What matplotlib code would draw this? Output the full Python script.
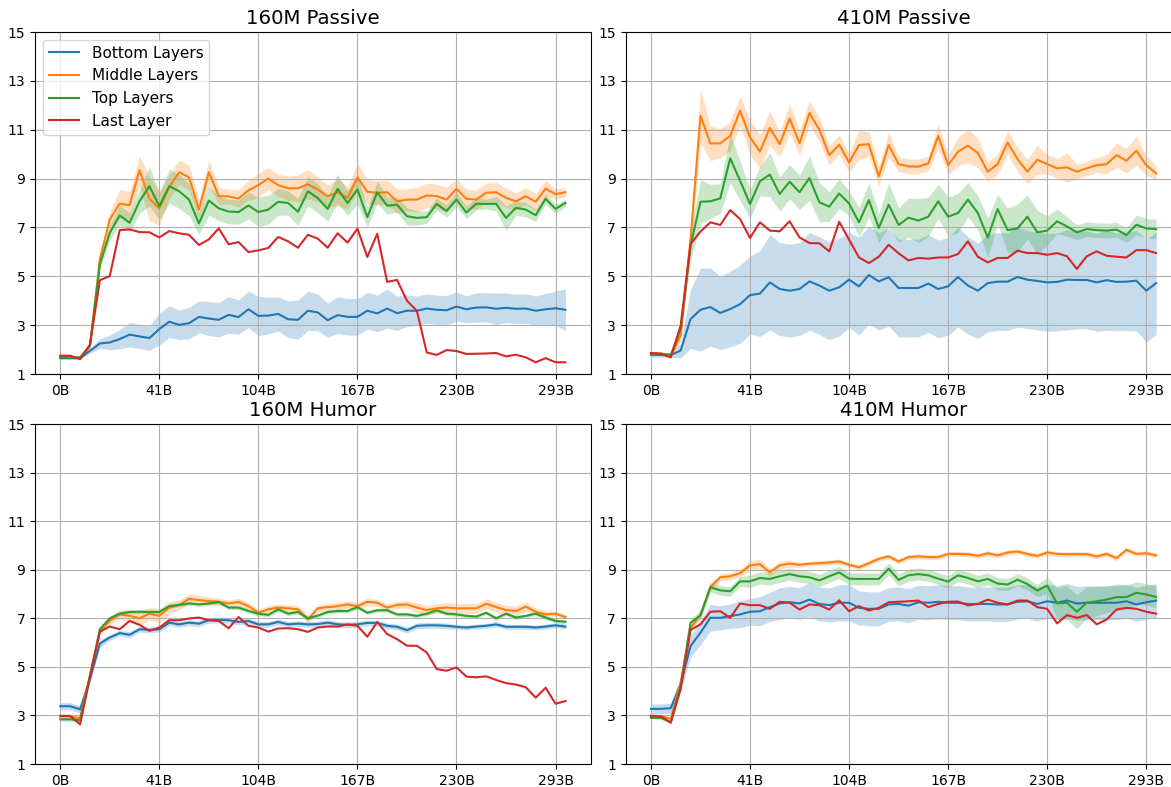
import matplotlib
matplotlib.use("Agg")
import matplotlib.pyplot as plt
import numpy as np

# checkpoints (index) and their tick labels
steps = np.arange(52)
tick_pos = [0, 10, 20, 30, 40, 50]
tick_labels = ["0B", "41B", "104B", "167B", "230B", "293B"]
series_names = ["Bottom Layers", "Middle Layers", "Top Layers", "Last Layer"]
panel_titles = ["160M Passive", "410M Passive", "160M Humor", "410M Humor"]

# ---- 160M Passive ----
p160_bottom = [1.65, 1.65, 1.65, 1.95, 2.25, 2.29, 2.43, 2.61, 2.54, 2.47,
               2.84, 3.14, 3.01, 3.08, 3.34, 3.27, 3.22, 3.42, 3.33, 3.65,
               3.38, 3.39, 3.46, 3.24, 3.22, 3.59, 3.52, 3.20, 3.41, 3.34,
               3.34, 3.59, 3.48, 3.68, 3.49, 3.59, 3.59, 3.68, 3.63, 3.61,
               3.76, 3.65, 3.72, 3.73, 3.67, 3.71, 3.67, 3.68, 3.59, 3.65,
               3.69, 3.63]
p160_middle = [1.72, 1.72, 1.65, 2.16, 5.70, 7.33, 7.97, 7.91, 9.34, 8.17,
               7.78, 8.65, 9.26, 9.05, 7.73, 9.26, 8.28, 8.27, 8.18, 8.52,
               8.73, 9.00, 8.73, 8.60, 8.60, 8.77, 8.55, 8.28, 8.44, 8.21,
               9.05, 8.46, 8.42, 8.44, 8.07, 8.14, 8.14, 8.31, 8.28, 8.14,
               8.58, 8.17, 8.14, 8.42, 8.44, 8.21, 8.07, 8.28, 8.05, 8.59,
               8.36, 8.44]
p160_top = [1.68, 1.68, 1.68, 2.16, 5.49, 6.78, 7.49, 7.19, 8.07, 8.69,
            7.87, 8.69, 8.48, 8.14, 7.16, 8.10, 7.78, 7.65, 7.63, 7.90,
            7.63, 7.73, 8.05, 8.00, 7.64, 8.48, 8.20, 7.76, 8.58, 8.00,
            8.55, 7.42, 8.44, 7.89, 7.93, 7.46, 7.39, 7.42, 7.96, 7.67,
            8.14, 7.61, 7.97, 7.96, 7.97, 7.39, 7.80, 7.73, 7.50, 8.17,
            7.76, 8.00]
p160_last = [1.75, 1.75, 1.61, 2.20, 4.84, 5.01, 6.89, 6.92, 6.81, 6.80,
             6.59, 6.85, 6.76, 6.70, 6.28, 6.51, 6.96, 6.31, 6.40, 5.99,
             6.06, 6.16, 6.61, 6.43, 6.17, 6.70, 6.54, 6.17, 6.76, 6.38,
             6.95, 5.79, 6.74, 4.77, 4.85, 4.00, 3.59, 1.88, 1.78, 1.98,
             1.94, 1.82, 1.83, 1.84, 1.86, 1.72, 1.79, 1.68, 1.48, 1.65,
             1.48, 1.48]
p160_bottom_sd = [0.05, 0.05, 0.05, 0.10, 0.20, 0.30, 0.40, 0.50, 0.50, 0.50,
                  0.65, 0.65, 0.60, 0.65, 0.65, 0.70, 0.70, 0.75, 0.70, 0.75,
                  0.80, 0.75, 0.70, 0.75, 0.80, 0.80, 0.75, 0.70, 0.75, 0.75,
                  0.75, 0.75, 0.75, 0.80, 0.70, 0.65, 0.60, 0.60, 0.60, 0.60,
                  0.60, 0.55, 0.60, 0.60, 0.65, 0.60, 0.60, 0.60, 0.60, 0.65,
                  0.70, 0.85]
p160_middle_sd = [0.05, 0.05, 0.05, 0.10, 0.20, 0.30, 0.60, 0.55, 0.60, 0.90,
                  0.70, 0.50, 0.50, 0.50, 0.40, 0.50, 0.35, 0.30, 0.35, 0.40,
                  0.50, 0.45, 0.45, 0.50, 0.55, 0.60, 0.50, 0.45, 0.55, 0.45,
                  0.60, 0.50, 0.50, 0.50, 0.50, 0.45, 0.50, 0.50, 0.50, 0.50,
                  0.40, 0.40, 0.40, 0.40, 0.40, 0.40, 0.35, 0.35, 0.35, 0.35,
                  0.20, 0.20]
p160_top_sd = [0.05, 0.05, 0.05, 0.10, 0.20, 0.30, 0.40, 0.40, 0.50, 0.80,
               0.55, 0.70, 0.70, 0.65, 0.45, 0.60, 0.50, 0.50, 0.50, 0.55,
               0.60, 0.60, 0.55, 0.50, 0.55, 0.60, 0.60, 0.50, 0.60, 0.50,
               0.60, 0.40, 0.45, 0.35, 0.30, 0.35, 0.30, 0.25, 0.25, 0.25,
               0.30, 0.25, 0.25, 0.20, 0.30, 0.50, 0.30, 0.30, 0.25, 0.20,
               0.20, 0.15]

# ---- 410M Passive ----
p410_bottom = [1.78, 1.78, 1.78, 1.96, 3.25, 3.63, 3.74, 3.50, 3.66, 3.86,
               4.23, 4.29, 4.75, 4.48, 4.41, 4.48, 4.79, 4.62, 4.41, 4.55,
               4.86, 4.59, 5.05, 4.79, 4.96, 4.52, 4.52, 4.52, 4.70, 4.48,
               4.59, 4.97, 4.62, 4.41, 4.72, 4.78, 4.78, 4.97, 4.86, 4.81,
               4.75, 4.77, 4.86, 4.85, 4.85, 4.75, 4.84, 4.77, 4.78, 4.82,
               4.41, 4.72]
p410_middle = [1.86, 1.85, 1.75, 2.57, 6.53, 11.57, 10.44, 10.44, 10.75, 11.78,
               10.69, 10.10, 11.07, 10.41, 11.46, 10.45, 11.68, 11.00, 9.96, 10.39,
               9.66, 10.37, 10.41, 9.09, 10.37, 9.59, 9.50, 9.49, 9.62, 10.75,
               9.55, 10.10, 10.35, 10.05, 9.28, 9.59, 10.48, 9.80, 9.28, 9.77,
               9.59, 9.42, 9.46, 9.28, 9.42, 9.55, 9.59, 9.96, 9.73, 10.14,
               9.55, 9.21]
p410_top = [1.82, 1.82, 1.78, 2.84, 6.25, 8.05, 8.07, 8.19, 9.83, 8.91,
            7.96, 8.89, 9.16, 8.37, 8.87, 8.44, 9.02, 8.03, 7.85, 8.39,
            7.98, 7.21, 8.12, 6.98, 7.93, 7.10, 7.40, 7.28, 7.44, 8.07,
            7.44, 7.59, 8.14, 7.59, 6.59, 7.75, 6.89, 6.96, 7.44, 6.80,
            6.87, 7.25, 7.04, 6.80, 6.93, 6.89, 6.87, 6.91, 6.69, 7.11,
            6.96, 6.93]
p410_last = [1.86, 1.82, 1.68, 2.98, 6.32, 6.83, 7.21, 7.10, 7.71, 7.34,
             6.57, 7.21, 6.87, 6.84, 7.25, 6.59, 6.36, 6.35, 6.02, 7.23,
             6.50, 5.77, 5.54, 5.80, 6.29, 5.94, 5.65, 5.75, 5.72, 5.77,
             5.77, 5.91, 6.43, 5.80, 5.57, 5.75, 5.75, 6.05, 5.95, 5.95,
             5.88, 5.95, 5.82, 5.30, 5.82, 6.02, 5.84, 5.80, 5.77, 6.07,
             6.07, 5.95]
p410_bottom_sd = [0.10, 0.10, 0.10, 0.30, 1.20, 1.70, 1.60, 1.50, 1.55, 1.60,
                  1.60, 1.75, 1.95, 1.90, 1.90, 1.90, 2.00, 2.00, 2.00, 2.00,
                  1.95, 2.00, 2.00, 2.00, 2.00, 2.00, 2.00, 2.00, 2.00, 2.00,
                  2.00, 2.05, 2.00, 1.95, 2.00, 2.00, 2.00, 2.05, 2.00, 2.00,
                  2.00, 2.00, 2.05, 2.00, 2.00, 2.00, 2.05, 2.00, 2.00, 2.05,
                  2.10, 2.10]
p410_middle_sd = [0.05, 0.05, 0.05, 0.20, 0.50, 1.10, 0.70, 0.60, 0.60, 0.60,
                  0.70, 0.70, 0.70, 0.50, 0.60, 0.50, 0.50, 0.50, 0.40, 0.40,
                  0.40, 0.60, 0.50, 0.40, 0.50, 0.30, 0.30, 0.30, 0.30, 0.50,
                  0.40, 0.60, 0.70, 0.60, 0.40, 0.40, 0.50, 0.50, 0.50, 0.60,
                  0.40, 0.40, 0.60, 0.30, 0.30, 0.30, 0.40, 0.50, 0.50, 0.60,
                  0.40, 0.30]
p410_top_sd = [0.05, 0.05, 0.05, 0.20, 0.60, 0.90, 0.70, 0.60, 1.00, 0.80,
               0.60, 0.60, 0.90, 0.70, 0.70, 0.70, 0.90, 0.80, 0.60, 0.60,
               0.50, 0.60, 0.70, 0.60, 0.90, 0.70, 0.80, 0.90, 0.80, 0.70,
               0.80, 0.80, 0.70, 0.70, 0.80, 0.60, 0.90, 1.00, 0.90, 0.90,
               0.60, 0.50, 0.40, 0.30, 0.30, 0.30, 0.30, 0.30, 0.30, 0.40,
               0.40, 0.40]

# ---- 160M Humor ----
h160_bottom = [3.38, 3.38, 3.25, 4.50, 5.96, 6.21, 6.39, 6.32, 6.55, 6.52,
               6.55, 6.82, 6.75, 6.82, 6.78, 6.92, 6.93, 6.92, 6.85, 6.89,
               6.75, 6.75, 6.85, 6.75, 6.78, 6.75, 6.76, 6.82, 6.75, 6.73,
               6.75, 6.81, 6.81, 6.69, 6.65, 6.51, 6.69, 6.71, 6.71, 6.69,
               6.65, 6.62, 6.66, 6.69, 6.75, 6.65, 6.65, 6.65, 6.62, 6.66,
               6.71, 6.66]
h160_middle = [2.96, 2.96, 2.89, 4.64, 6.45, 6.89, 7.16, 7.10, 7.00, 7.19,
               7.10, 7.44, 7.55, 7.80, 7.75, 7.71, 7.68, 7.61, 7.67, 7.50,
               7.23, 7.37, 7.44, 7.41, 7.37, 6.96, 7.41, 7.46, 7.50, 7.57,
               7.50, 7.68, 7.64, 7.44, 7.55, 7.57, 7.44, 7.34, 7.41, 7.44,
               7.41, 7.41, 7.41, 7.60, 7.46, 7.34, 7.30, 7.48, 7.27, 7.16,
               7.19, 7.05]
h160_top = [2.84, 2.84, 2.80, 4.64, 6.55, 7.00, 7.19, 7.26, 7.27, 7.26,
            7.26, 7.50, 7.55, 7.61, 7.57, 7.61, 7.67, 7.44, 7.44, 7.30,
            7.19, 7.14, 7.37, 7.19, 7.26, 7.00, 7.11, 7.26, 7.30, 7.30,
            7.46, 7.23, 7.33, 7.33, 7.16, 7.16, 7.10, 7.19, 7.33, 7.19,
            7.16, 7.10, 7.07, 7.23, 7.00, 7.19, 7.03, 7.10, 7.19, 7.03,
            6.89, 6.86]
h160_last = [2.98, 2.98, 2.63, 4.57, 6.45, 6.66, 6.55, 6.89, 6.73, 6.48,
             6.62, 6.92, 6.92, 6.99, 7.03, 6.92, 6.89, 6.59, 7.05, 6.69,
             6.62, 6.45, 6.58, 6.59, 6.55, 6.44, 6.62, 6.66, 6.66, 6.75,
             6.69, 6.24, 6.85, 6.35, 6.14, 5.87, 5.87, 5.59, 4.91, 4.84,
             4.98, 4.60, 4.57, 4.61, 4.46, 4.33, 4.27, 4.16, 3.73, 4.14,
             3.48, 3.59]
h160_bottom_sd = [0.15, 0.15, 0.15, 0.15, 0.15, 0.12, 0.12, 0.12, 0.12, 0.12,
                  0.12, 0.12, 0.12, 0.12, 0.12, 0.12, 0.12, 0.12, 0.12, 0.12,
                  0.12, 0.12, 0.12, 0.12, 0.12, 0.12, 0.12, 0.12, 0.12, 0.12,
                  0.12, 0.12, 0.12, 0.12, 0.12, 0.12, 0.12, 0.12, 0.12, 0.12,
                  0.10, 0.10, 0.10, 0.10, 0.10, 0.10, 0.10, 0.10, 0.10, 0.10,
                  0.10, 0.10]
h160_middle_sd = [0.05, 0.05, 0.05, 0.10, 0.10, 0.15, 0.20, 0.25, 0.30, 0.25,
                  0.30, 0.25, 0.20, 0.20, 0.20, 0.15, 0.15, 0.15, 0.15, 0.15,
                  0.15, 0.15, 0.15, 0.15, 0.15, 0.15, 0.15, 0.15, 0.15, 0.15,
                  0.15, 0.15, 0.15, 0.15, 0.15, 0.15, 0.20, 0.20, 0.20, 0.20,
                  0.20, 0.20, 0.20, 0.20, 0.20, 0.20, 0.20, 0.20, 0.15, 0.15,
                  0.10, 0.10]
h160_top_sd = [0.08, 0.08, 0.08, 0.08, 0.08, 0.08, 0.08, 0.08, 0.08, 0.08,
               0.08, 0.08, 0.08, 0.08, 0.08, 0.08, 0.08, 0.08, 0.08, 0.08,
               0.08, 0.08, 0.08, 0.08, 0.08, 0.08, 0.08, 0.08, 0.08, 0.08,
               0.08, 0.08, 0.08, 0.08, 0.08, 0.08, 0.08, 0.08, 0.08, 0.08,
               0.08, 0.08, 0.08, 0.08, 0.08, 0.08, 0.08, 0.08, 0.08, 0.08,
               0.08, 0.08]

# ---- 410M Humor ----
h410_bottom = [3.27, 3.27, 3.30, 4.29, 5.86, 6.41, 7.02, 7.02, 7.09, 7.16,
               7.27, 7.29, 7.46, 7.61, 7.66, 7.61, 7.77, 7.59, 7.54, 7.64,
               7.64, 7.43, 7.39, 7.39, 7.57, 7.59, 7.52, 7.66, 7.64, 7.68,
               7.64, 7.64, 7.59, 7.59, 7.59, 7.57, 7.57, 7.68, 7.70, 7.59,
               7.70, 7.64, 7.73, 7.61, 7.64, 7.64, 7.64, 7.64, 7.70, 7.57,
               7.66, 7.73]
h410_middle = [3.00, 2.97, 2.86, 4.36, 6.60, 7.16, 8.29, 8.69, 8.73, 8.86,
               9.18, 9.23, 8.89, 9.18, 9.25, 9.20, 9.25, 9.27, 9.30, 9.34,
               9.20, 9.10, 9.27, 9.45, 9.55, 9.34, 9.52, 9.55, 9.52, 9.52,
               9.65, 9.65, 9.64, 9.57, 9.68, 9.59, 9.71, 9.75, 9.65, 9.57,
               9.71, 9.65, 9.64, 9.64, 9.64, 9.55, 9.65, 9.48, 9.82, 9.65,
               9.68, 9.59]
h410_top = [2.90, 2.90, 2.72, 4.23, 6.82, 7.12, 8.28, 8.15, 8.11, 8.52,
            8.52, 8.66, 8.62, 8.73, 8.82, 8.73, 8.69, 8.56, 8.73, 8.89,
            8.63, 8.62, 8.62, 8.62, 9.04, 8.58, 8.77, 8.82, 8.77, 8.63,
            8.51, 8.77, 8.66, 8.52, 8.62, 8.43, 8.39, 8.59, 8.41, 8.14,
            8.35, 7.61, 7.64, 7.27, 7.64, 7.70, 7.77, 7.87, 7.87, 8.05,
            7.98, 7.88]
h410_last = [2.97, 2.97, 2.70, 4.09, 6.52, 6.75, 7.27, 7.29, 7.02, 7.61,
             7.54, 7.54, 7.39, 7.68, 7.64, 7.36, 7.57, 7.54, 7.36, 7.74,
             7.29, 7.50, 7.32, 7.43, 7.66, 7.68, 7.70, 7.73, 7.46, 7.59,
             7.68, 7.69, 7.53, 7.59, 7.77, 7.64, 7.57, 7.73, 7.73, 7.46,
             7.39, 6.79, 7.13, 7.02, 7.13, 6.75, 6.95, 7.36, 7.43, 7.39,
             7.27, 7.19]
h410_bottom_sd = [0.20, 0.20, 0.20, 0.30, 0.45, 0.50, 0.55, 0.50, 0.50, 0.55,
                  0.55, 0.60, 0.60, 0.65, 0.65, 0.65, 0.70, 0.70, 0.70, 0.75,
                  0.75, 0.70, 0.70, 0.70, 0.70, 0.70, 0.70, 0.70, 0.70, 0.70,
                  0.70, 0.70, 0.70, 0.70, 0.70, 0.70, 0.70, 0.70, 0.70, 0.70,
                  0.70, 0.70, 0.70, 0.70, 0.70, 0.70, 0.70, 0.70, 0.70, 0.70,
                  0.70, 0.70]
h410_middle_sd = [0.05, 0.05, 0.05, 0.10, 0.10, 0.10, 0.15, 0.15, 0.15, 0.15,
                  0.20, 0.20, 0.15, 0.15, 0.15, 0.10, 0.10, 0.10, 0.10, 0.10,
                  0.10, 0.10, 0.10, 0.10, 0.10, 0.10, 0.10, 0.10, 0.10, 0.10,
                  0.10, 0.10, 0.10, 0.10, 0.10, 0.10, 0.10, 0.10, 0.10, 0.10,
                  0.10, 0.10, 0.10, 0.10, 0.10, 0.10, 0.10, 0.10, 0.10, 0.10,
                  0.10, 0.10]
h410_top_sd = [0.05, 0.05, 0.05, 0.10, 0.15, 0.20, 0.20, 0.20, 0.20, 0.20,
               0.25, 0.25, 0.25, 0.25, 0.25, 0.25, 0.25, 0.25, 0.25, 0.25,
               0.25, 0.25, 0.25, 0.25, 0.25, 0.25, 0.25, 0.25, 0.25, 0.25,
               0.25, 0.25, 0.25, 0.25, 0.25, 0.25, 0.25, 0.25, 0.25, 0.25,
               0.35, 0.65, 0.70, 0.70, 0.65, 0.60, 0.55, 0.55, 0.50, 0.45,
               0.45, 0.45]

panels = [
    ([p160_bottom, p160_middle, p160_top, p160_last],
     [p160_bottom_sd, p160_middle_sd, p160_top_sd, None]),
    ([p410_bottom, p410_middle, p410_top, p410_last],
     [p410_bottom_sd, p410_middle_sd, p410_top_sd, None]),
    ([h160_bottom, h160_middle, h160_top, h160_last],
     [h160_bottom_sd, h160_middle_sd, h160_top_sd, None]),
    ([h410_bottom, h410_middle, h410_top, h410_last],
     [h410_bottom_sd, h410_middle_sd, h410_top_sd, None]),
]

colors = ["tab:blue", "tab:orange", "tab:green", "tab:red"]

W, H = 1171, 787
fig = plt.figure(figsize=(W / 100, H / 100), dpi=100)

# axes boxes in pixels: (left, top, height); the right column runs past the figure edge
boxes = [(35, 32, 342), (625.7, 32, 342), (35, 424, 340), (625.7, 424, 340)]
aw = 555.7

for k, (means, sds) in enumerate(panels):
    x0, y0, ah = boxes[k]
    ax = fig.add_axes([x0 / W, 1 - (y0 + ah) / H, aw / W, ah / H])
    for name, m, sd, c in zip(series_names, means, sds, colors):
        m = np.array(m)
        ax.plot(steps, m, color=c, lw=1.5, label=name)
        if sd is not None:
            sd = np.array(sd)
            ax.fill_between(steps, m - sd, m + sd, color=c, alpha=0.25, lw=0)
    ax.set_ylim(1, 15)
    ax.set_yticks(range(1, 16, 2))
    ax.set_xticks(tick_pos)
    ax.set_xticklabels(tick_labels)
    ax.tick_params(labelsize=10)
    ax.grid(True)
    ax.set_title(panel_titles[k], fontsize=14.2)
    if k == 0:
        ax.legend(loc="upper left", fontsize=11)

fig.savefig("out.png", dpi=100)
